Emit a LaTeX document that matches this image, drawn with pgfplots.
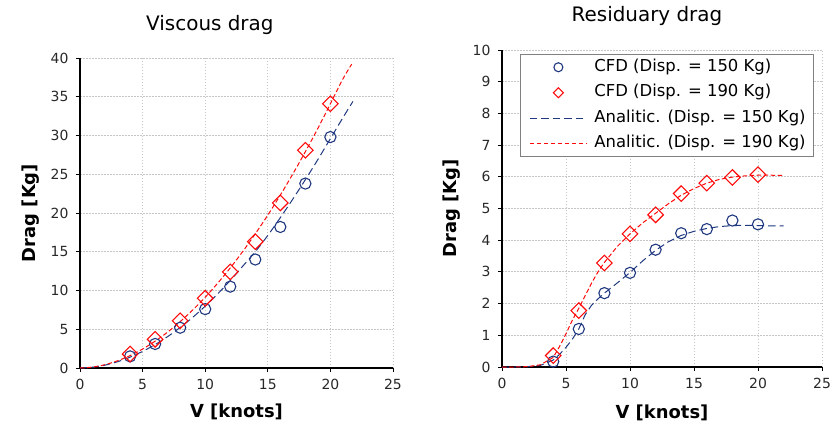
\documentclass[border=0pt]{standalone}
\usepackage{pgfplots}
\pgfplotsset{compat=1.18}
\usepackage{fontspec}
\setmainfont{DejaVu Sans}
\definecolor{navy}{RGB}{31,56,128}
\definecolor{cred}{RGB}{255,10,10}
\definecolor{tickgray}{RGB}{40,40,40}
\pgfplotsset{
  every axis title shift=0pt,
  mystyle/.style={
    scale only axis,
    axis x line=bottom, axis y line=left,
    axis line style={-, line width=2bp, black},
    tick align=outside, major tick length=4bp,
    tick style={line width=0.8bp, black},
    grid=major,
    major grid style={gray!45, line width=0.8bp, dash pattern=on 1.5bp off 1.5bp},
    /pgf/number format/assume math mode=true,
    ticklabel style={font=\fontsize{14}{16}\selectfont, text=tickgray},
    yticklabel style={xshift=-4bp},
    xticklabel style={yshift=-4bp},
    label style={font=\bfseries\fontsize{18}{20}\selectfont},
    title style={font=\fontsize{20}{22}\selectfont, anchor=center},
    xmin=0, xmax=25, xtick={0,5,...,25},
    xlabel={V [knots]}, ylabel={Drag [Kg]},
    clip=false,
  },
  cfdA/.style={only marks, mark=o, mark size=5.6bp, color=navy, line width=1.1bp},
  cfdB/.style={only marks, mark=square, mark size=5.5bp, mark options={rotate=45}, color=cred, line width=1.1bp},
  anA/.style={no marks, color=navy, line width=1bp, dash pattern=on 7.5bp off 4bp},
  anB/.style={no marks, color=cred, line width=1bp, dash pattern=on 4.5bp off 2.5bp},
}
\begin{document}
\begin{tikzpicture}
\useasboundingbox (0,0) rectangle (833bp,424bp);
% ---------------- Viscous drag
\begin{axis}[mystyle,
  at={(80bp,56bp)}, anchor=south west,
  width=313bp, height=310bp,
  ymin=0, ymax=40, ytick={0,5,...,40},
  title={Viscous drag},
  title style={at={(axis description cs:0.415,1.107)}},
  xlabel style={at={(axis description cs:0.5,-0.142)}, anchor=center},
  ylabel style={at={(axis description cs:-0.157,0.5)}, anchor=center},
]
\addplot[anA, smooth] coordinates {
(0,0) (1,0.10) (2,0.37) (3,0.81) (4,1.40) (5,2.14) (6,3.02) (7,4.05) (8,5.23)
(9,6.53) (10,7.98) (11,9.57) (12,11.29) (13,13.14) (14,15.0) (15,17.1)
(16,19.4) (17,21.8) (18,24.3) (19,26.9) (20,29.6) (21,32.3) (21.8,34.4)};
\addplot[anB, smooth] coordinates {
(0,0) (1,0.12) (2,0.43) (3,0.93) (4,1.60) (5,2.45) (6,3.46) (7,4.63) (8,5.98)
(9,7.48) (10,9.13) (11,10.95) (12,12.91) (13,15.03) (14,17.31) (15,19.73)
(16,22.31) (17,25.04) (18,27.91) (19,30.92) (20,34.1) (21,37.3) (21.7,39.2)};
\addplot[cfdA] coordinates {
(4,1.5) (6,3.1) (8,5.2) (10,7.6) (12,10.5) (14,14.0) (16,18.2) (18,23.8) (20,29.8)};
\addplot[cfdB] coordinates {
(4,1.8) (6,3.7) (8,6.1) (10,9.0) (12,12.4) (14,16.3) (16,21.3) (18,28.1) (20,34.1)};
\end{axis}
% ---------------- Residuary drag
\begin{axis}[mystyle,
  at={(502bp,57bp)}, anchor=south west,
  width=320bp, height=317bp,
  ymin=0, ymax=10, ytick={0,1,...,10},
  title={Residuary drag},
  title style={at={(axis description cs:0.453,1.107)}},
  xlabel style={at={(axis description cs:0.5,-0.145)}, anchor=center},
  ylabel style={at={(axis description cs:-0.156,0.5)}, anchor=center},
  legend cell align=left,
  legend style={at={(axis description cs:0.975,0.987)}, anchor=north east,
    draw=gray, line width=0.8bp, fill=white,
    inner xsep=4bp, inner ysep=0bp, row sep=0bp, column sep=3bp,
    font=\fontsize{16.5}{18}\selectfont,
    nodes={text height=12bp, text depth=4bp, inner ysep=4.75bp, inner xsep=4bp}},
]
\addlegendimage{draw=navy, line width=1.1bp, legend image code/.code={\path[draw=none] (0bp,0bp) -- (62bp,0bp); \draw[draw=navy, line width=1.1bp] plot[only marks, mark=o, mark size=4.5bp] coordinates {(33.5bp,0bp)};}}
\addlegendentry{CFD (Disp. = 150 Kg)}
\addlegendimage{draw=cred, line width=1.1bp, legend image code/.code={\path[draw=none] (0bp,0bp) -- (62bp,0bp); \draw[draw=cred, line width=1.1bp] plot[only marks, mark=square, mark size=3.5bp, mark options={rotate=45}] coordinates {(33.5bp,0bp)};}}
\addlegendentry{CFD (Disp. = 190 Kg)}
\addlegendimage{draw=navy, line width=1bp, legend image code/.code={\path[draw=none] (0bp,0bp) -- (5bp,0bp); \draw[draw=navy, line width=1bp, dash pattern=on 7.5bp off 4bp] (5bp,0bp) -- (62bp,0bp);}}
\addlegendentry{Analitic. (Disp. = 150 Kg)}
\addlegendimage{draw=cred, line width=1.1bp, legend image code/.code={\path[draw=none] (0bp,0bp) -- (5bp,0bp); \draw[draw=cred, line width=1.1bp, solid] (5bp,0bp) -- (9.5bp,0bp) (12bp,0bp) -- (16.5bp,0bp) (19bp,0bp) -- (23.5bp,0bp) (26bp,0bp) -- (30.5bp,0bp) (33bp,0bp) -- (37.5bp,0bp) (40bp,0bp) -- (44.5bp,0bp) (47bp,0bp) -- (51.5bp,0bp) (54bp,0bp) -- (58.5bp,0bp) (61bp,0bp) -- (62bp,0bp);}}
\addlegendentry{Analitic. (Disp. = 190 Kg)}
\addplot[cfdA, forget plot] coordinates {
(4,0.17) (6,1.2) (8,2.33) (10,2.97) (12,3.7) (14,4.22) (16,4.35) (18,4.62) (20,4.5)};
\addplot[cfdB, forget plot] coordinates {
(4,0.36) (6,1.78) (8,3.28) (10,4.2) (12,4.8) (14,5.47) (16,5.8) (18,5.98) (20,6.07)};
\addplot[anA, forget plot] coordinates {
(0,0) (1,0) (2,0.01) (3,0.05) (4,0.22) (4.5,0.4) (5,0.62) (5.5,0.88) (6,1.2) (6.5,1.65) (7,1.95)
(7.5,2.15) (8,2.33) (9,2.65) (10,2.98) (11,3.35) (12,3.68) (13,3.95) (14,4.15) (15,4.28)
(16,4.37) (17,4.43) (18,4.46) (19,4.47) (20,4.46) (21,4.45) (22,4.45)};
\addplot[anB, forget plot] coordinates {
(0,0) (1,0) (2,0.01) (3,0.07) (4,0.3) (4.5,0.65) (5,1.05) (5.5,1.48) (6,1.85) (6.5,2.25)
(7,2.65) (7.5,3.0) (8,3.3) (9,3.8) (10,4.2) (11,4.55) (12,4.85) (13,5.15) (14,5.42)
(15,5.63) (16,5.8) (17,5.92) (18,5.99) (19,6.03) (20,6.05) (21,6.05) (22,6.04)};
\end{axis}
\end{tikzpicture}
\end{document}
